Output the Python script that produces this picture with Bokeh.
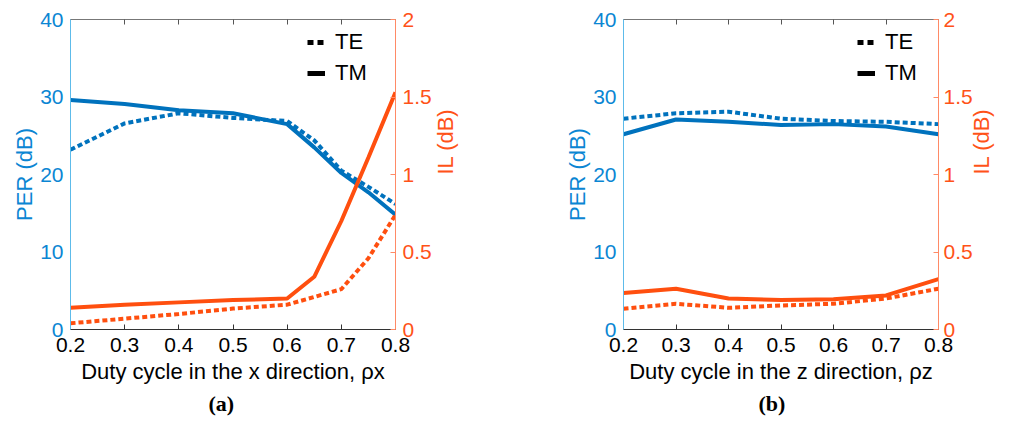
import math
from bokeh.plotting import figure
from bokeh.models import Range1d, LinearAxis, FixedTicker, Legend, LegendItem, Title
from bokeh.layouts import row
from bokeh.embed import file_html
from bokeh.resources import INLINE

# ---- data ----
xa = [0.2, 0.3, 0.4, 0.5, 0.6, 0.65, 0.7, 0.75, 0.8]
per_te_a = [23.2, 26.6, 27.9, 27.3, 26.9, 24.4, 20.5, 18.4, 16.2]
per_tm_a = [29.6, 29.1, 28.3, 27.9, 26.5, 23.5, 20.2, 17.7, 14.8]
il_te_a = [0.04, 0.07, 0.10, 0.135, 0.16, 0.21, 0.26, 0.46, 0.74]
il_tm_a = [0.14, 0.16, 0.175, 0.19, 0.20, 0.34, 0.70, 1.11, 1.53]

xb = [0.2, 0.3, 0.4, 0.5, 0.6, 0.7, 0.8]
per_te_b = [27.2, 27.9, 28.1, 27.2, 26.9, 26.8, 26.5]
per_tm_b = [25.2, 27.1, 26.8, 26.4, 26.5, 26.2, 25.2]
il_te_b = [0.134, 0.166, 0.14, 0.155, 0.166, 0.20, 0.263]
il_tm_b = [0.235, 0.263, 0.20, 0.19, 0.195, 0.22, 0.325]

x_ticks = [0.2, 0.3, 0.4, 0.5, 0.6, 0.7, 0.8]
per_ticks = [0, 10, 20, 30, 40]
il_ticks = [0, 0.5, 1, 1.5, 2]
legend_labels = ["TE", "TM"]

BLUE = "#0072BD"
ORANGE = "#FF4F0F"
BLUE_TXT = "#0B86D3"
BLUE_SPINE = "#5DBBEA"
OR_TXT = "#FF5218"
OR_SPINE = "#FF8A66"
FONT = "Liberation Sans"
DOT = "5 3"
NAN = float("nan")


def make_panel(x, per_te, per_tm, il_te, il_tm, xlabel, tag, width, bl, br, leg_loc,
               r_std, r_lab_std, tag_off):
    p = figure(width=width, height=423, output_backend="svg", toolbar_location=None,
               x_range=Range1d(0.2, 0.8), y_range=Range1d(0, 40),
               min_border_left=bl, min_border_right=br, min_border_top=19,
               min_border_bottom=94)
    p.extra_y_ranges = {"il": Range1d(0, 2)}
    p.grid.visible = False
    p.outline_line_color = None
    p.background_fill_color = "white"
    p.border_fill_color = "white"

    # bottom axis
    xa_ = p.xaxis[0]
    xa_.ticker = FixedTicker(ticks=x_ticks)
    xa_.major_label_overrides = {t: f"{t:.1f}" for t in x_ticks}
    xa_.axis_label = xlabel
    xa_.axis_label_text_font = FONT
    xa_.axis_label_text_font_style = "normal"
    xa_.axis_label_text_font_size = "22px"
    xa_.axis_label_text_color = "black"
    xa_.axis_label_standoff = 4
    xa_.major_label_text_font = FONT
    xa_.major_label_text_font_size = "21px"
    xa_.major_label_text_color = "black"
    xa_.major_label_standoff = 8
    xa_.major_tick_in = 5
    xa_.major_tick_out = 0
    xa_.minor_tick_line_color = None
    xa_.axis_line_color = "#333333"
    xa_.major_tick_line_color = "#333333"

    # top border axis (ticks only)
    top = LinearAxis(ticker=FixedTicker(ticks=x_ticks), major_label_text_color=None,
                     major_label_standoff=0, major_tick_in=5, major_tick_out=0,
                     minor_tick_line_color=None, axis_line_color="#777777",
                     major_tick_line_color="#555555")
    p.add_layout(top, "above")

    # left axis
    ya = p.yaxis[0]
    ya.ticker = FixedTicker(ticks=per_ticks)
    ya.axis_label = "PER (dB)"
    ya.axis_label_text_font = FONT
    ya.axis_label_text_font_style = "normal"
    ya.axis_label_text_font_size = "22px"
    ya.axis_label_text_color = BLUE_TXT
    ya.axis_label_standoff = 0
    ya.major_label_text_font = FONT
    ya.major_label_text_font_size = "21px"
    ya.major_label_text_color = BLUE_TXT
    ya.major_label_standoff = 7
    ya.major_tick_in = 0
    ya.major_tick_out = 0
    ya.minor_tick_line_color = None
    ya.axis_line_color = BLUE_SPINE

    # right axis
    ra = LinearAxis(y_range_name="il", ticker=FixedTicker(ticks=il_ticks),
                    axis_label="IL (dB)", axis_label_text_font=FONT,
                    axis_label_text_font_style="normal", axis_label_text_font_size="22px",
                    axis_label_text_color=OR_TXT, axis_label_standoff=r_lab_std,
                    major_label_text_font=FONT, major_label_text_font_size="21px",
                    major_label_text_color=OR_TXT, major_label_standoff=r_std,
                    major_tick_in=5, major_tick_out=0, minor_tick_line_color=None,
                    axis_line_color=OR_SPINE, major_tick_line_color=OR_SPINE)
    try:
        ra.axis_label_orientation = math.pi / 2
    except Exception:
        pass
    p.add_layout(ra, "right")

    # data lines
    p.line(x, per_te, line_color=BLUE, line_width=4, line_dash=DOT)
    p.line(x, per_tm, line_color=BLUE, line_width=4)
    p.line(x, il_te, line_color=ORANGE, line_width=4, line_dash=DOT, y_range_name="il")
    p.line(x, il_tm, line_color=ORANGE, line_width=4, y_range_name="il")

    # legend proxies (black, no visible data)
    r_te = p.line([NAN, NAN], [NAN, NAN], line_color="black", line_width=5, line_dash="6 4")
    r_tm = p.line([NAN, NAN], [NAN, NAN], line_color="black", line_width=5)
    leg = Legend(items=[LegendItem(label=legend_labels[0], renderers=[r_te]),
                        LegendItem(label=legend_labels[1], renderers=[r_tm])],
                 location=leg_loc, border_line_color=None, background_fill_alpha=0,
                 label_text_font=FONT, label_text_font_size="22px", label_text_color="black",
                 glyph_width=18, glyph_height=22, label_height=22, label_standoff=10,
                 spacing=5, padding=0, margin=0)
    p.add_layout(leg, "center")

    t = Title(text=tag, align="left", offset=tag_off, standoff=5, text_font="Liberation Serif",
              text_font_size="22px", text_font_style="bold", text_color="black")
    p.add_layout(t, "below")
    return p


pa = make_panel(xa, per_te_a, per_tm_a, il_te_a, il_tm_a,
                "Duty cycle in the x direction, \u03c1x", "(a)", 505, 70, 110, (237, 243),
                7, 11, 138)
pb = make_panel(xb, per_te_b, per_tm_b, il_te_b, il_tm_b,
                "Duty cycle in the z direction, \u03c1z", "(b)", 504, 118, 67, (234, 243),
                5, 6, 135)

layout = row(pa, pb)
open("out.html", "w").write(file_html(layout, INLINE))
